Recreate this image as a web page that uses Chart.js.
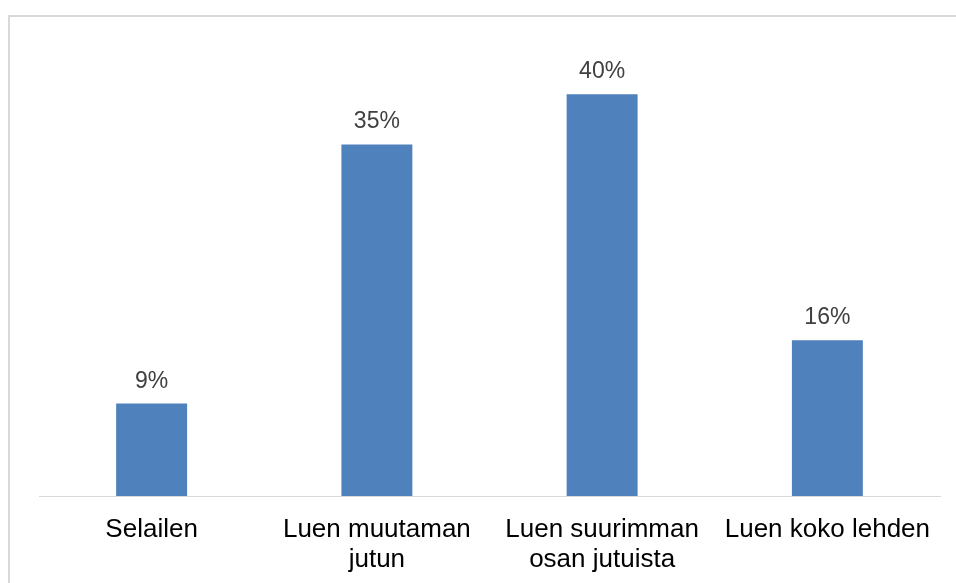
<!DOCTYPE html>
<html>
<head>
<meta charset="utf-8">
<script src="https://cdn.jsdelivr.net/npm/chart.js@4/dist/chart.umd.min.js"></script>
<style>
  html, body { margin: 0; padding: 0; background: #fff; overflow: hidden; }
  #wrap { position: relative; width: 956px; height: 583px; }
  #frame { position: absolute; left: 8px; top: 15px; width: 1000px; height: 1000px;
           border-left: 2px solid #d9d9d9; border-top: 2px solid #d9d9d9; box-sizing: border-box; }
  canvas { position: absolute; left: 0; top: 0; }
</style>
</head>
<body>
<div id="wrap">
  <div id="frame"></div>
  <canvas id="c" width="956" height="583"></canvas>
</div>
<script>
const categories = [
  ["Selailen"],
  ["Luen muutaman", "jutun"],
  ["Luen suurimman", "osan jutuista"],
  ["Luen koko lehden"]
];
const values = [9.2, 35, 40, 15.5];
const valueLabels = ["9%", "35%", "40%", "16%"];

const dataLabelPlugin = {
  id: 'dataLabels',
  afterDatasetsDraw(chart) {
    const ctx = chart.ctx;
    const meta = chart.getDatasetMeta(0);
    ctx.save();
    ctx.font = '23px "Liberation Sans", Arial, sans-serif';
    ctx.fillStyle = '#404040';
    ctx.textAlign = 'center';
    ctx.textBaseline = 'alphabetic';
    meta.data.forEach((bar, i) => {
      ctx.fillText(valueLabels[i], bar.x, bar.y - 16);
    });
    ctx.restore();
  }
};

new Chart(document.getElementById('c'), {
  type: 'bar',
  data: {
    labels: categories,
    datasets: [{
      data: values,
      backgroundColor: '#4F81BD',
      borderWidth: 0,
      barPercentage: 0.315,
      categoryPercentage: 1.0
    }]
  },
  options: {
    responsive: false,
    animation: false,
    devicePixelRatio: 1,
    layout: { padding: { left: 39, right: 16, top: 44, bottom: 0 } },
    plugins: { legend: { display: false }, tooltip: { enabled: false } },
    scales: {
      x: {
        grid: { display: false, drawTicks: false },
        border: { display: true, color: '#d9d9d9', width: 1 },
        ticks: {
          color: '#000000',
          padding: 19,
          maxRotation: 0,
          autoSkip: false,
          font: { family: '"Liberation Sans", Arial, sans-serif', size: 26, lineHeight: 1.15 }
        },
        afterFit(scale) { scale.height = 87; }
      },
      y: {
        display: false,
        min: 0,
        max: 45
      }
    }
  },
  plugins: [dataLabelPlugin]
});
</script>
</body>
</html>
